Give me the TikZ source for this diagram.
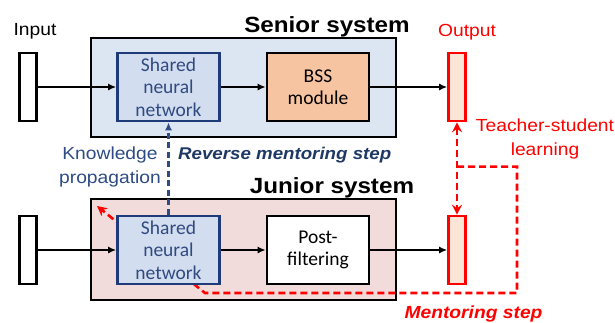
\documentclass[tikz,border=0pt]{standalone}
\usepackage{fontspec}
\setmainfont{Liberation Sans}[FakeStretch=1.1]
\newfontfamily\boxfont{Carlito}
\usetikzlibrary{arrows.meta,calc}

\definecolor{seniorbg}{HTML}{DCE6F2}
\definecolor{juniorbg}{HTML}{F2DCDB}
\definecolor{netfill}{HTML}{D3DDF0}
\definecolor{netline}{HTML}{1F3A78}
\definecolor{nettext}{HTML}{2F4A80}
\definecolor{bssfill}{HTML}{F6C4A0}
\definecolor{outfill}{HTML}{FBE5D6}
\definecolor{knowblue}{HTML}{2E4B85}
\definecolor{revblue}{HTML}{1F3864}
\definecolor{mentred}{HTML}{FF0000}

\tikzset{redtip/.tip={Stealth[length=10pt,width=10pt,inset=3.5pt]}}

\begin{document}
\begin{tikzpicture}[x=1pt,y=-1pt,
  lbl/.style={font=\fontsize{17.5}{24}\selectfont, inner sep=0pt},
  head/.style={font=\bfseries\fontsize{22}{26}\selectfont, inner sep=0pt},
  sysbox/.style={draw=black, line width=2.8pt, minimum width=305pt, inner sep=0pt},
  blk/.style={draw, line width=2.6pt, minimum width=102pt, minimum height=68pt,
    align=center, inner sep=0pt, font=\boxfont\fontsize{19.5}{22.5}\selectfont},
  netblk/.style={blk, draw=netline, fill=netfill, text=nettext},
  bar/.style={draw, line width=2.6pt, minimum width=17pt, minimum height=68pt, inner sep=0pt},
  outbar/.style={bar, draw=mentred, fill=outfill},
  flow/.style={line width=2.2pt, -{Latex[length=8pt,width=7pt]}},
  reddash/.style={draw=mentred, line width=2.6pt, dash pattern=on 7pt off 4pt},
]
\useasboundingbox (0,0) rectangle (615,322);

% system frames
\node[sysbox, fill=seniorbg, minimum height=99pt] (senior) at (243.5,87.5) {};
\node[sysbox, fill=juniorbg, minimum height=101pt] (junior) at (243.5,249.5) {};

% output bars
\node[outbar] (so) at (457,87) {};
\node[outbar] (jo) at (457,250) {};

% mentoring loop (passes under the junior network block)
\coordinate (tap) at ($(so.south)!0.48!(jo.north)$);
\coordinate (corner) at (517,293);
\coordinate (bend) at (205,293);
\coordinate (tipm) at (97,206);
\draw[reddash, -redtip] (tap) -| (corner) -- (bend) -- (tipm);

% senior chain
\node[bar, fill=white] (si) at (28,87) {};
\node[netblk] (ssnn) at (168.5,87) {Shared\\neural\\network};
\node[blk, fill=bssfill] (bss) at (318,87) {BSS\\module};

% junior chain
\node[bar, fill=white] (ji) at (28,250) {};
\node[netblk] (jsnn) at (168.5,250) {Shared\\neural\\network};
\node[blk, fill=white] (post) at (318,250) {Post-\\filtering};

% signal flow
\draw[flow] (si.east) -- (ssnn.west);
\draw[flow] (ssnn.east) -- (bss.west);
\draw[flow] (bss.east) -- (so.west);
\draw[flow] (ji.east) -- (jsnn.west);
\draw[flow] (jsnn.east) -- (post.west);
\draw[flow] (post.east) -- (jo.west);

% knowledge propagation
\draw[draw=knowblue, line width=2.4pt, dash pattern=on 6pt off 3.5pt,
  -{Latex[length=8pt,width=7pt]}] (jsnn.north) -- (ssnn.south);

% teacher-student link
\draw[reddash, redtip-redtip] (so.south) -- (jo.north);

% labels
\node[lbl, anchor=base] (tin) at (35,35) {Input};
\node[lbl, anchor=base, text=mentred] (tout) at (467,36) {Output};
\node[head, anchor=base] (tsen) at (327,32) {Senior system};
\node[head, anchor=base] (tjun) at (332,193) {Junior system};
\node[lbl, anchor=base, text=mentred, align=center] (tts) at (545,155)
  {Teacher-student\\learning};
\node[lbl, anchor=base, text=knowblue, align=center] (tkn) at (110,183)
  {Knowledge\\propagation};
\node[lbl, anchor=base west, text=revblue, font=\bfseries\itshape\fontsize{17}{20}\selectfont]
  (trev) at (178,159) {Reverse mentoring step};
\node[lbl, anchor=base, text=mentred, font=\bfseries\itshape\fontsize{17.5}{20}\selectfont]
  (tment) at (473.5,318) {Mentoring step};
\end{tikzpicture}
\end{document}
